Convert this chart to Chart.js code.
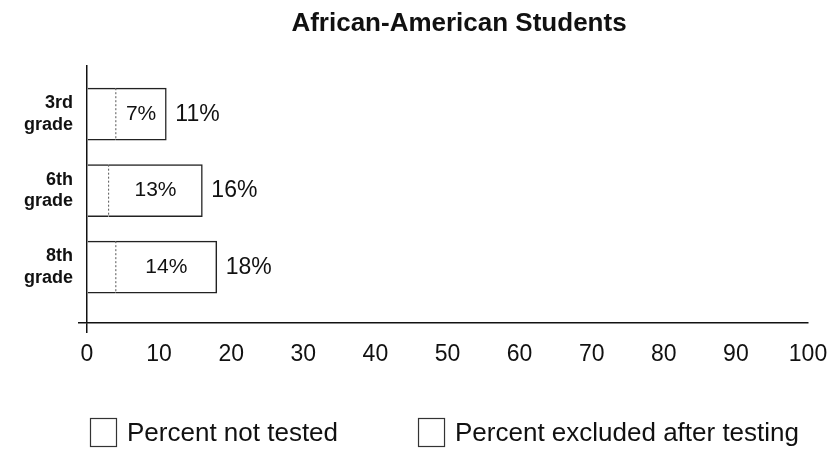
<!DOCTYPE html>
<html>
<head>
<meta charset="utf-8">
<script src="https://cdn.jsdelivr.net/npm/chart.js@4.4.1/dist/chart.umd.min.js"></script>
<style>
html, body { margin: 0; padding: 0; background: #fff; }
#wrap { width: 836px; height: 452px; position: relative; }
</style>
</head>
<body>
<div id="wrap"><canvas id="chart"></canvas></div>
<script>
const titleText = 'African-American Students';
const grades = ['3rd grade', '6th grade', '8th grade'];
const notTested = [4, 3, 4];
const excluded = [7, 13, 14];
const totals = [11, 16, 18];
const seriesNames = ['Percent not tested', 'Percent excluded after testing'];
const xMin = 0, xMax = 100, xStep = 10;

const FONT = "'Liberation Sans', Arial, Helvetica, sans-serif";
const INK = '#111';
const yMin = -0.63, yMax = 2.73;

const toPoints = (arr) => arr.map((v, i) => ({x: v, y: i}));

// title, legend, dashed split and the % labels
const extras = {
  id: 'extras',
  afterDatasetsDraw(chart) {
    const ctx = chart.ctx;
    const first = chart.getDatasetMeta(0).data;
    const second = chart.getDatasetMeta(1).data;
    ctx.save();
    ctx.strokeStyle = '#555';
    ctx.lineWidth = 1;
    ctx.setLineDash([2, 2]);
    first.forEach(bar => {
      const h = bar.height / 2;
      ctx.beginPath();
      ctx.moveTo(bar.x, bar.y - h);
      ctx.lineTo(bar.x, bar.y + h);
      ctx.stroke();
    });
    ctx.setLineDash([]);
    ctx.fillStyle = INK;
    ctx.textBaseline = 'middle';
    second.forEach((bar, i) => {
      ctx.font = '21px ' + FONT;
      ctx.textAlign = 'center';
      ctx.fillText(excluded[i] + '%', (bar.base + bar.x) / 2, bar.y);
      ctx.font = '23px ' + FONT;
      ctx.textAlign = 'left';
      ctx.fillText(totals[i] + '%', bar.x + 9, bar.y);
    });
    ctx.restore();
  },
  afterDraw(chart) {
    const ctx = chart.ctx;
    ctx.save();
    ctx.fillStyle = INK;
    ctx.font = 'bold 26px ' + FONT;
    ctx.textAlign = 'center';
    ctx.textBaseline = 'alphabetic';
    ctx.fillText(titleText, 459, 31);

    ctx.font = '26px ' + FONT;
    ctx.textAlign = 'left';
    let x = 90;
    seriesNames.forEach(name => {
      ctx.fillStyle = '#fff';
      ctx.fillRect(x, 418, 26, 28);
      ctx.strokeStyle = '#333';
      ctx.lineWidth = 1.2;
      ctx.strokeRect(x + 0.5, 418.5, 26, 28);
      ctx.fillStyle = INK;
      ctx.fillText(name, x + 37, 441);
      x += 37 + ctx.measureText(name).width + 80;
    });
    ctx.restore();
  }
};

new Chart(document.getElementById('chart'), {
  type: 'bar',
  data: {
    datasets: [
      {
        label: seriesNames[0],
        data: toPoints(notTested),
        backgroundColor: '#fff',
        borderColor: '#222',
        borderWidth: {top: 1.5, bottom: 1.5, left: 0, right: 0},
        borderSkipped: false,
        barThickness: 52
      },
      {
        label: seriesNames[1],
        data: toPoints(excluded),
        backgroundColor: '#fff',
        borderColor: '#222',
        borderWidth: {top: 1.5, bottom: 1.5, left: 0, right: 1.5},
        borderSkipped: false,
        barThickness: 52
      }
    ]
  },
  options: {
    indexAxis: 'y',
    responsive: true,
    maintainAspectRatio: false,
    animation: false,
    layout: {padding: {top: 66, right: 28, bottom: 0, left: 0}},
    plugins: {
      legend: {display: false},
      title: {display: false},
      tooltip: {enabled: false}
    },
    scales: {
      x: {
        type: 'linear',
        stacked: true,
        min: xMin,
        max: xMax,
        afterFit(s) { s.height = 129; },
        border: {color: INK, width: 1.5},
        grid: {
          drawOnChartArea: false,
          tickLength: 10,
          lineWidth: 1.5,
          color: c => (c.tick && c.tick.value === 0) ? INK : 'transparent'
        },
        ticks: {stepSize: xStep, color: INK, font: {family: FONT, size: 23}, padding: 8, maxRotation: 0}
      },
      y: {
        type: 'linear',
        stacked: true,
        reverse: true,
        offset: false,
        min: yMin,
        max: yMax,
        afterFit(s) { s.width = 87; },
        afterBuildTicks(s) { s.ticks = grades.map((g, i) => ({value: i})).concat([{value: yMax}]); },
        border: {color: INK, width: 1.5},
        grid: {
          offset: false,
          drawOnChartArea: false,
          tickLength: 9,
          lineWidth: 1.5,
          color: c => (c.tick && c.tick.value === yMax) ? INK : 'transparent'
        },
        ticks: {
          color: INK,
          font: {family: FONT, size: 18, weight: 'bold', lineHeight: 1.2},
          padding: 5,
          callback: v => grades[v] ? grades[v].split(' ') : ''
        }
      }
    }
  },
  plugins: [extras]
});
</script>
</body>
</html>
